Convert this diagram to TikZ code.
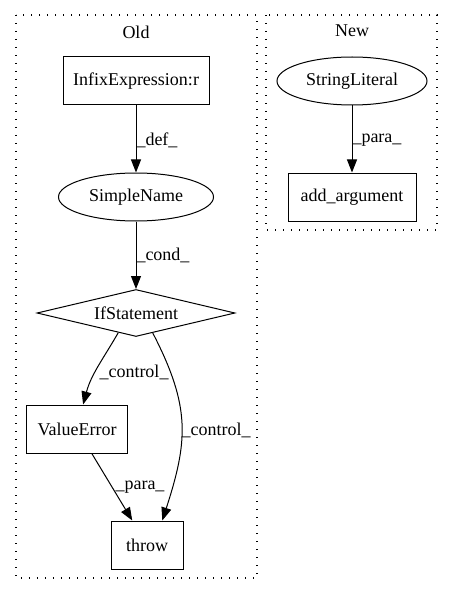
\documentclass[tikz,border=0pt]{standalone}
\usepackage{fontspec}
\setmainfont{Liberation Serif}
\usetikzlibrary{shapes.geometric,arrows.meta,positioning}

\begin{document}
\begin{tikzpicture}[x=1pt, y=1pt, line width=1pt,
    font=\fontsize{18}{22}\selectfont,
    box/.style={draw, rectangle, minimum height=48pt, inner sep=0pt},
    oval/.style={draw, ellipse, minimum height=48pt, inner sep=0pt},
    cluster/.style={draw, dash pattern=on 1.3pt off 6.7pt, line width=1.3pt},
    edge/.style={-{Triangle[length=13pt, width=10pt]}},
    lbl/.style={inner sep=1pt}]
    \useasboundingbox (0,0) rectangle (453,-596);

    % Old
    \draw[cluster] (16,-15) rectangle (257,-578);
    \node (oldtitle) at (136,-32) {Old};
    \node[box, minimum width=146pt] (infix) at (136,-81) {InfixExpression:r};
    \node[oval, minimum width=155pt] (simplename) at (136,-197) {SimpleName};
    \node[draw, diamond, shape aspect=4.2, minimum width=198pt, minimum height=47pt, inner sep=0pt] (ifstmt) at (136,-313) {IfStatement};
    \node[box, minimum width=101pt] (valueerror) at (77,-429) {ValueError};
    \node[box, minimum width=72pt] (throw) at (147,-545) {throw};

    % New
    \draw[cluster] (266,-15) rectangle (437,-230);
    \node (newtitle) at (352,-31) {New};
    \node[oval, minimum width=150pt] (stringlit) at (352,-81) {StringLiteral};
    \node[box, minimum width=128pt] (addarg) at (352,-197) {add\_argument};

    % edges
    \draw[edge] (infix) -- (simplename);
    \draw[edge] (simplename) -- (ifstmt);
    \draw[edge] (ifstmt.228) to[out=240, in=75] (valueerror.76);
    \draw[edge] (ifstmt.310) .. controls (191,-407) and (188,-441) .. (throw.58);
    \draw[edge] (valueerror) -- (throw);
    \draw[edge] (stringlit) -- (addarg);

    % edge labels
    \node[lbl, anchor=west] (deflbl) at (135,-140) {\_def\_};
    \node[lbl, anchor=west] (condlbl) at (135,-255) {\_cond\_};
    \node[lbl] (ctrlleft) at (134,-372) {\_control\_};
    \node[lbl] (ctrlright) at (216,-430) {\_control\_};
    \node[lbl] (paralow) at (140,-487) {\_para\_};
    \node[lbl, anchor=west] (paranew) at (351,-140) {\_para\_};
\end{tikzpicture}
\end{document}
